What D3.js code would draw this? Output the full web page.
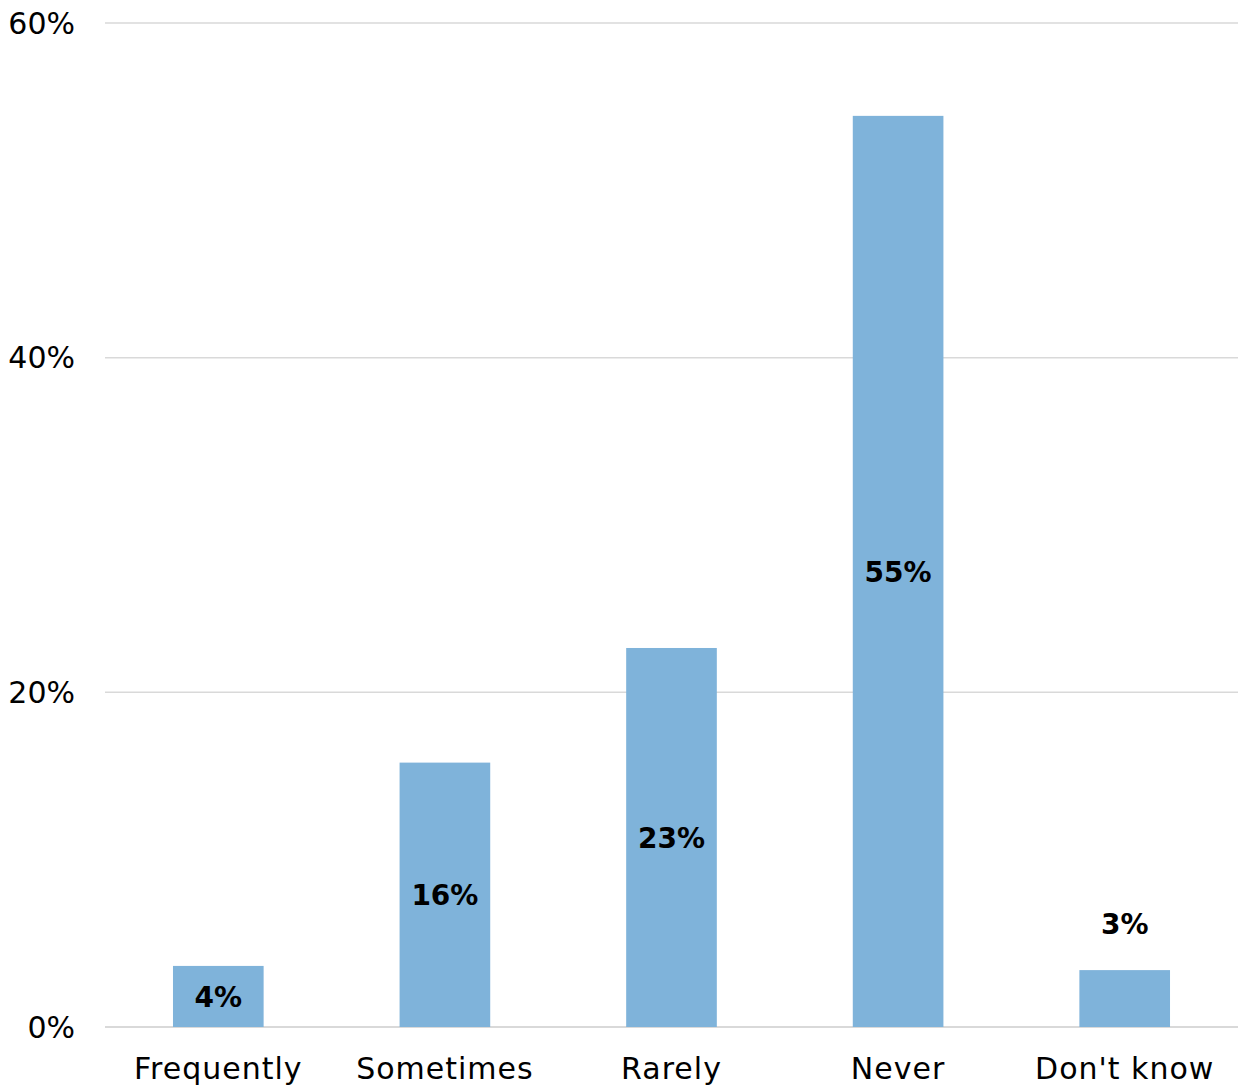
<!DOCTYPE html>
<html>
<head>
<meta charset="utf-8">
<script src="https://cdn.jsdelivr.net/npm/d3@7"></script>
<style>
  html, body { margin: 0; padding: 0; background: #fff; }
  svg { display: block; }
</style>
</head>
<body>
<svg id="chart" width="1247" height="1086"></svg>
<script>
const categories = ["Frequently", "Sometimes", "Rarely", "Never", "Don't know"];
const values = [3.65, 15.8, 22.65, 54.45, 3.4];
const valueLabels = ["4%", "16%", "23%", "55%", "3%"];
const yTicks = [0, 20, 40, 60];
const yTickLabels = ["0%", "20%", "40%", "60%"];

(function () {
const svg = d3.select("#chart");
const plotLeft = 105, plotRight = 1238, plotTop = 23, plotBottom = 1027;

const x = d3.scaleBand().domain(categories).range([plotLeft, plotRight])
  .paddingInner(0.6).paddingOuter(0.3);
const y = d3.scaleLinear().domain([0, 60]).range([plotBottom, plotTop]);

// gridlines
svg.append("g").selectAll("line").data(yTicks).join("line")
  .attr("x1", plotLeft).attr("x2", plotRight)
  .attr("y1", d => y(d)).attr("y2", d => y(d))
  .attr("stroke", "#d9d9d9")
  .attr("stroke-width", d => d === 0 ? 2 : 1.5);

// y tick labels
svg.append("g").selectAll("text").data(yTicks).join("text")
  .attr("x", 75).attr("y", d => y(d))
  .attr("dy", "0.36em")
  .attr("text-anchor", "end")
  .attr("font-family", "DejaVu Sans")
  .attr("font-size", 30)
  .attr("fill", "#000")
  .text((d, i) => yTickLabels[i]);

// bars
svg.append("g").selectAll("rect").data(values).join("rect")
  .attr("x", (d, i) => x(categories[i]))
  .attr("width", x.bandwidth())
  .attr("y", d => y(d))
  .attr("height", d => y(0) - y(d))
  .attr("fill", "#7fb3da");

// value labels
svg.append("g").selectAll("text").data(values).join("text")
  .attr("x", (d, i) => x(categories[i]) + x.bandwidth() / 2)
  .attr("y", (d, i) => i === 4 ? y(d) - 46 : (y(d) + y(0)) / 2)
  .attr("dy", "0.36em")
  .attr("text-anchor", "middle")
  .attr("font-family", "DejaVu Sans")
  .attr("font-weight", "bold")
  .attr("font-size", 28)
  .attr("fill", "#000")
  .text((d, i) => valueLabels[i]);

// category labels
svg.append("g").selectAll("text").data(categories).join("text")
  .attr("x", d => x(d) + x.bandwidth() / 2)
  .attr("y", 1079)
  .attr("text-anchor", "middle")
  .attr("font-family", "DejaVu Sans")
  .attr("font-size", 30)
  .attr("letter-spacing", 1)
  .attr("fill", "#000")
  .text(d => d);
})();
</script>
</body>
</html>
